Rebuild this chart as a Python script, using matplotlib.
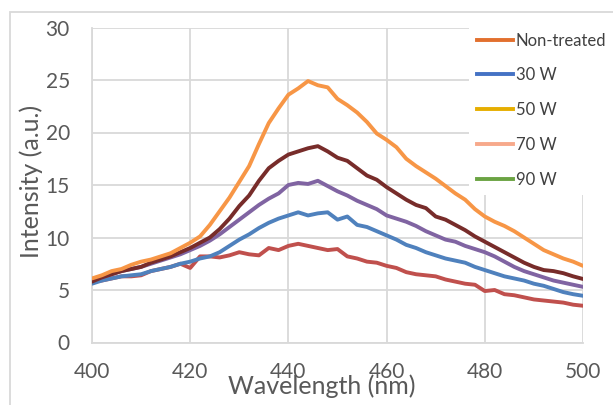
import matplotlib
matplotlib.use("Agg")
import matplotlib.pyplot as plt
from matplotlib.lines import Line2D
from matplotlib.patches import Rectangle

# emission spectra, sampled every 2 nm
wavelength = list(range(400, 501, 2))

red_curve = [5.8, 5.9, 6.1, 6.3, 6.3, 6.4, 6.8, 7.0, 7.2, 7.5, 7.1, 8.2, 8.2, 8.1,
             8.3, 8.6, 8.4, 8.3, 9.0, 8.8, 9.2, 9.4, 9.2, 9.0, 8.8, 8.9, 8.2, 8.0,
             7.7, 7.6, 7.3, 7.1, 6.7, 6.5, 6.4, 6.3, 6.0, 5.8, 5.6, 5.5, 4.9, 5.0,
             4.6, 4.5, 4.3, 4.1, 4.0, 3.9, 3.8, 3.6, 3.5]
blue_curve = [5.6, 5.9, 6.1, 6.3, 6.4, 6.5, 6.8, 7.0, 7.2, 7.5, 7.7, 8.0, 8.2, 8.6,
              9.2, 9.8, 10.3, 10.9, 11.4, 11.8, 12.1, 12.4, 12.1, 12.3, 12.4, 11.7,
              12.0, 11.2, 11.0, 10.6, 10.2, 9.8, 9.3, 9.0, 8.6, 8.3, 8.0, 7.8, 7.6,
              7.2, 6.9, 6.6, 6.3, 6.1, 5.9, 5.6, 5.4, 5.1, 4.8, 4.6, 4.45]
purple_curve = [5.9, 6.2, 6.5, 6.8, 7.0, 7.2, 7.5, 7.8, 8.1, 8.4, 8.8, 9.2, 9.7,
                10.3, 11.0, 11.7, 12.4, 13.1, 13.7, 14.2, 15.0, 15.2, 15.1, 15.4,
                14.9, 14.4, 14.0, 13.5, 13.1, 12.7, 12.1, 11.8, 11.5, 11.1, 10.6,
                10.2, 9.8, 9.6, 9.2, 8.9, 8.6, 8.2, 7.7, 7.2, 6.8, 6.5, 6.2, 5.9,
                5.7, 5.5, 5.3]
maroon_curve = [5.8, 6.2, 6.5, 6.8, 7.0, 7.2, 7.6, 7.9, 8.2, 8.6, 9.0, 9.5, 10.0,
                10.8, 11.8, 13.0, 14.0, 15.4, 16.6, 17.3, 17.9, 18.2, 18.5, 18.7,
                18.2, 17.6, 17.3, 16.6, 15.9, 15.5, 14.8, 14.2, 13.6, 13.1, 12.8,
                12.0, 11.7, 11.2, 10.7, 10.1, 9.6, 9.1, 8.6, 8.1, 7.6, 7.2, 6.9,
                6.8, 6.6, 6.3, 6.05]
orange_curve = [6.1, 6.4, 6.8, 7.0, 7.4, 7.7, 7.9, 8.2, 8.5, 9.0, 9.5, 10.1, 11.2,
                12.5, 13.8, 15.3, 16.8, 18.9, 20.9, 22.3, 23.6, 24.2, 24.9, 24.5,
                24.3, 23.2, 22.6, 21.9, 21.0, 19.9, 19.3, 18.6, 17.5, 16.8, 16.2,
                15.6, 14.9, 14.2, 13.6, 12.7, 12.0, 11.5, 11.1, 10.6, 10.0, 9.4,
                8.8, 8.4, 8.0, 7.7, 7.3]

curves = [red_curve, blue_curve, purple_curve, maroon_curve, orange_curve]
curve_colors = ["#C0504D", "#4F81BD", "#8064A2", "#772C2A", "#F79646"]

series_labels = ["Non-treated", "30 W", "50 W", "70 W", "90 W"]
legend_colors = ["#E2702E", "#4472C4", "#E6AE00", "#F7A98B", "#6BA343"]

x_ticks = [400, 420, 440, 460, 480, 500]
y_ticks = [0, 5, 10, 15, 20, 25, 30]

plt.rcParams['font.family'] = ['Lato', 'DejaVu Sans']
text_grey = "#595959"
grid_grey = "#D9D9D9"

fig = plt.figure(figsize=(6.13, 4.05), dpi=100)
ax = fig.add_axes([92 / 613, 1 - 342.5 / 405, 491 / 613, 315 / 405])

for vals, col in zip(curves, curve_colors):
    ax.plot(wavelength, vals, color=col, lw=2.8, solid_joinstyle='round',
            solid_capstyle='round', zorder=3)

ax.set_xlim(400, 500)
ax.set_ylim(0, 30)
ax.set_xticks(x_ticks)
ax.set_yticks(y_ticks)
ax.grid(True, color=grid_grey, lw=1.3, zorder=0)
ax.set_axisbelow(True)
for side in ["top", "right"]:
    ax.spines[side].set_visible(False)
for side in ["left", "bottom"]:
    ax.spines[side].set_color(grid_grey)
    ax.spines[side].set_linewidth(1.3)
ax.tick_params(length=0, labelsize=15, colors=text_grey)
ax.tick_params(axis='y', pad=16)
ax.tick_params(axis='x', pad=14)

ax.set_xlabel("Wavelength (nm)", fontsize=18, color=text_grey)
ax.xaxis.set_label_coords(0.468, -0.1)
ax.set_ylabel("Intensity (a.u.)", fontsize=18, color=text_grey)
ax.yaxis.set_label_coords(-0.1, 0.51)

handles = [Line2D([], [], color=c, lw=2.8) for c in legend_colors]
leg = fig.legend(handles, series_labels, loc='upper left',
                 bbox_to_anchor=(469 / 613, 1 - 25 / 405),
                 fontsize=12, frameon=True, fancybox=False,
                 handlelength=2.2, handletextpad=0.15, labelspacing=1.13,
                 borderpad=0.45, borderaxespad=0)
leg.get_frame().set_facecolor("white")
leg.get_frame().set_edgecolor("none")
leg.get_frame().set_alpha(1)
for t in leg.get_texts():
    t.set_color("#404040")

# light frame around the chart area
fig.patches.append(Rectangle((9.5 / 613, -0.05), 1.2, 1 - 12 / 405 + 0.05,
                             transform=fig.transFigure, fill=False,
                             edgecolor=grid_grey, lw=1.3))

fig.savefig("out.png", dpi=100)
